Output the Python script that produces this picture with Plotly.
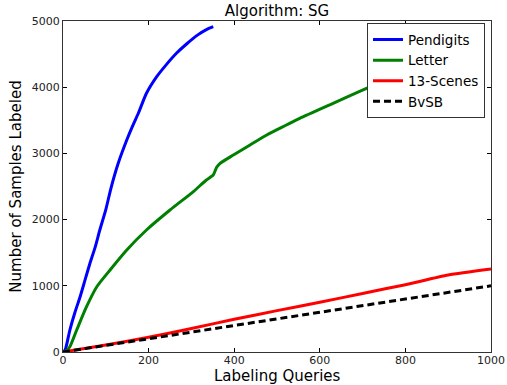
import plotly.graph_objects as go

# Pendigits (blue)
pen_q = [0, 5, 16, 28, 40, 52, 63, 75, 86, 100, 112, 129, 149, 163, 176, 195, 219, 240, 265, 290, 315, 335, 351]
pen_v = [0, 30, 332, 600, 835, 1100, 1340, 1580, 1843, 2150, 2473, 2850, 3202, 3420, 3606, 3908, 4159, 4330, 4512, 4660, 4790, 4870, 4914]

# Letter (green)
let_q = [0, 8, 16, 32, 55, 79, 110, 149, 195, 250, 304, 335, 351, 359, 367, 398, 437, 476, 522, 553, 631, 701, 760, 800]
let_v = [0, 20, 80, 332, 684, 986, 1239, 1541, 1843, 2145, 2420, 2598, 2674, 2790, 2850, 2976, 3127, 3278, 3429, 3530, 3757, 3958, 4120, 4220]

# 13-Scenes (red)
sce_q = [0, 100, 200, 300, 400, 500, 600, 700, 800, 900, 1000]
sce_v = [0, 105, 222, 355, 494, 625, 751, 885, 1017, 1163, 1254]

# BvSB (black dashed)
bvsb_q = [0, 1000]
bvsb_v = [0, 1000]

x_ticks = [0, 200, 400, 600, 800, 1000]
y_ticks = [0, 1000, 2000, 3000, 4000, 5000]

FONT = "DejaVu Sans"

fig = go.Figure()
fig.add_trace(go.Scatter(x=pen_q, y=pen_v, mode="lines", name="Pendigits",
                         line=dict(color="#0000ff", width=3, shape="spline", smoothing=0.6)))
fig.add_trace(go.Scatter(x=let_q, y=let_v, mode="lines", name="Letter",
                         line=dict(color="#008000", width=3, shape="spline", smoothing=0.6)))
fig.add_trace(go.Scatter(x=sce_q, y=sce_v, mode="lines", name="13-Scenes",
                         line=dict(color="#ff0000", width=3, shape="spline", smoothing=0.6)))
fig.add_trace(go.Scatter(x=bvsb_q, y=bvsb_v, mode="lines", name="BvSB",
                         line=dict(color="#000000", width=3, dash="7px,4px")))

axis_common = dict(
    showgrid=False, zeroline=False, showline=True, linecolor="#333333", linewidth=1,
    mirror="allticks", ticks="inside", ticklen=4, tickcolor="#000000", tickwidth=1,
    tickfont=dict(family=FONT, size=11, color="#222222"), automargin=False,
)

fig.update_layout(
    width=507, height=385,
    margin=dict(l=63, r=16, t=21, b=33),
    paper_bgcolor="white", plot_bgcolor="white",
    title=dict(text="Algorithm: SG", x=0.5, xanchor="center", y=1 - 11/385, yanchor="middle",
               xref="paper", font=dict(family=FONT, size=15, color="#000000")),
    xaxis=dict(range=[0, 1000], tickvals=x_ticks, ticktext=[str(v) for v in x_ticks],
               ticklabelstandoff=-2, **axis_common),
    yaxis=dict(range=[0, 5000], tickvals=y_ticks, ticktext=[str(v) for v in y_ticks],
               title=dict(text="Number of Samples Labeled", standoff=6,
                          font=dict(family=FONT, size=15, color="#000000")),
               **axis_common),
    legend=dict(x=0.986, xanchor="right", y=0.993, yanchor="top",
                bgcolor="white", bordercolor="#333333", borderwidth=1,
                font=dict(family=FONT, size=13.5, color="#000000"),
                tracegroupgap=0),
    showlegend=True,
    annotations=[dict(text="Labeling Queries", xref="paper", yref="paper", x=0.5, y=0,
                      xanchor="center", yanchor="top", yshift=-14, showarrow=False,
                      borderpad=0,
                      font=dict(family=FONT, size=15, color="#000000"))],
)

fig.write_html("out.html")
